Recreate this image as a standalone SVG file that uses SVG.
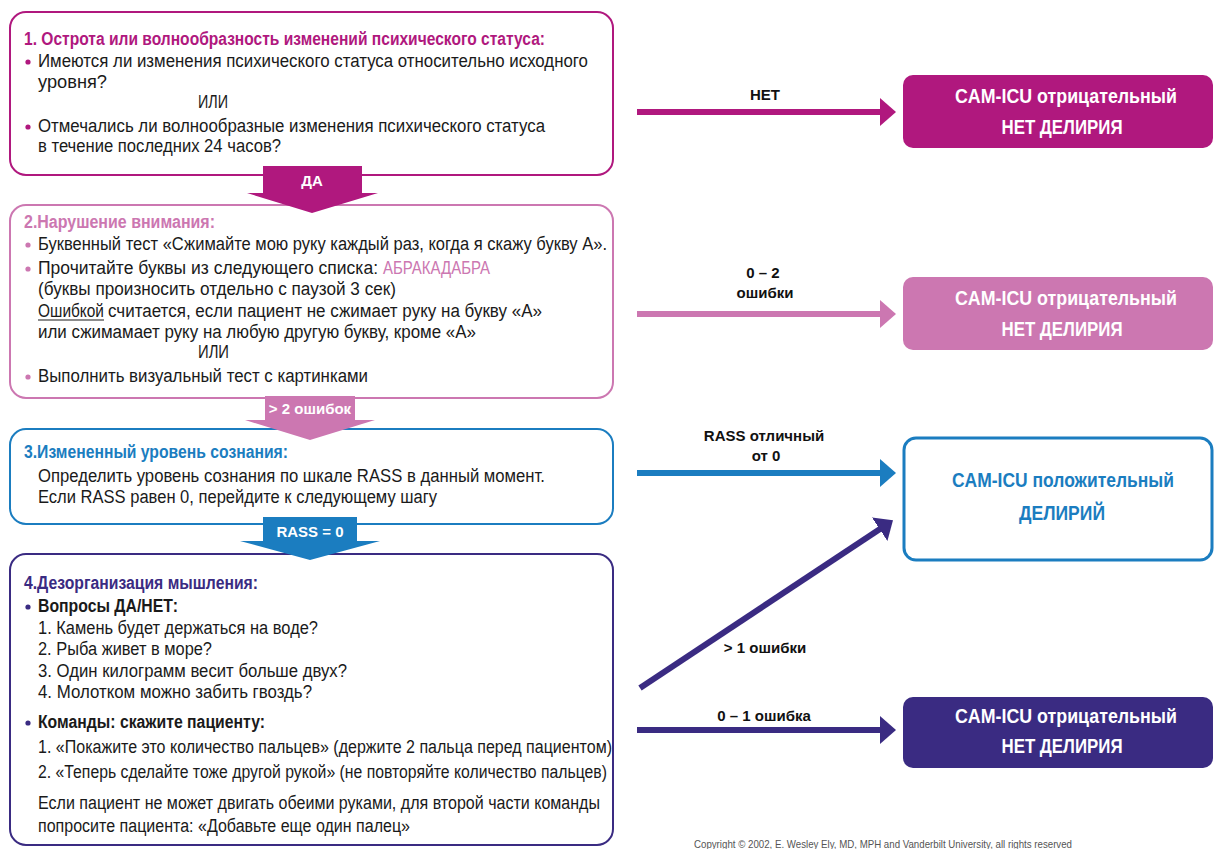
<svg xmlns="http://www.w3.org/2000/svg" width="1216" height="849" viewBox="0 0 1216 849">
<style>
text{font-family:"Liberation Sans Narrow","Liberation Sans",Arial,sans-serif;}
.t{font-size:18px;fill:#1a1a1a;}
.b{font-weight:bold;}
.h1{font-size:18px;font-weight:bold;fill:#b0187e;}
.h2{font-size:18px;font-weight:bold;fill:#cc77b1;}
.h3{font-size:18px;font-weight:bold;fill:#1b7dc0;}
.h4{font-size:18px;font-weight:bold;fill:#3a2b82;}
.lab{font-size:15px;font-weight:bold;fill:#111;text-anchor:middle;}
.wl{font-size:15px;font-weight:bold;fill:#fff;text-anchor:middle;}
.rt{font-size:20px;font-weight:bold;text-anchor:middle;}
.box{fill:#fff;stroke-width:2;}
</style>
<defs>
<marker id="mM" markerUnits="userSpaceOnUse" markerWidth="16" markerHeight="28" refX="4" refY="14" orient="auto"><path d="M0,0 L16,14 L0,28 z" fill="#b0187e"/></marker>
<marker id="mP" markerUnits="userSpaceOnUse" markerWidth="16" markerHeight="28" refX="4" refY="14" orient="auto"><path d="M0,0 L16,14 L0,28 z" fill="#cc77b1"/></marker>
<marker id="mB" markerUnits="userSpaceOnUse" markerWidth="16" markerHeight="28" refX="4" refY="14" orient="auto"><path d="M0,0 L16,14 L0,28 z" fill="#1b7dc0"/></marker>
<marker id="mD" markerUnits="userSpaceOnUse" markerWidth="16" markerHeight="28" refX="4" refY="14" orient="auto"><path d="M0,0 L16,14 L0,28 z" fill="#3a2b82"/></marker>
</defs>
<rect width="1216" height="849" fill="#fff"/>

<g id="step1">
<rect class="box" x="10" y="12" width="603" height="163" rx="16" stroke="#b0187e"/>
<text class="h1" x="24" y="45" textLength="521" lengthAdjust="spacingAndGlyphs">1. Острота или волнообразность изменений психического статуса:</text>
<circle cx="28" cy="62" r="2.6" fill="#b0187e"/>
<text class="t" x="38" y="67" textLength="550" lengthAdjust="spacingAndGlyphs">Имеются ли изменения психического статуса относительно исходного</text>
<text class="t" x="38" y="88" textLength="69" lengthAdjust="spacingAndGlyphs">уровня?</text>
<text class="t" x="198" y="108" textLength="30" lengthAdjust="spacingAndGlyphs">ИЛИ</text>
<circle cx="28" cy="127" r="2.6" fill="#b0187e"/>
<text class="t" x="38" y="132" textLength="507" lengthAdjust="spacingAndGlyphs">Отмечались ли волнообразные изменения психического статуса</text>
<text class="t" x="38" y="152" textLength="243" lengthAdjust="spacingAndGlyphs">в течение последних 24 часов?</text>
</g>

<g id="step2">
<rect class="box" x="10" y="205" width="603" height="193" rx="16" stroke="#cc77b1"/>
<text class="h2" x="24" y="228" textLength="191" lengthAdjust="spacingAndGlyphs">2.Нарушение внимания:</text>
<circle cx="28" cy="245" r="2.6" fill="#cc77b1"/>
<text class="t" x="38" y="250" textLength="569" lengthAdjust="spacingAndGlyphs">Буквенный тест «Сжимайте мою руку каждый раз, когда я скажу букву А».</text>
<circle cx="28" cy="269" r="2.6" fill="#cc77b1"/>
<text class="t" x="38" y="274" textLength="340" lengthAdjust="spacingAndGlyphs">Прочитайте буквы из следующего списка:</text>
<text class="t" x="383" y="274" textLength="107" lengthAdjust="spacingAndGlyphs" style="fill:#cc77b1">АБРАКАДАБРА</text>
<text class="t" x="38" y="295" textLength="358" lengthAdjust="spacingAndGlyphs">(буквы произносить отдельно с паузой 3 сек)</text>
<text class="t" x="38" y="317" textLength="66" lengthAdjust="spacingAndGlyphs">Ошибкой</text>
<line x1="38" y1="320" x2="104" y2="320" stroke="#1a1a1a" stroke-width="1.2"/>
<text class="t" x="108" y="317" textLength="434" lengthAdjust="spacingAndGlyphs">считается, если пациент не сжимает руку на букву «А»</text>
<text class="t" x="38" y="338" textLength="438" lengthAdjust="spacingAndGlyphs">или сжимамает руку на любую другую букву, кроме «А»</text>
<text class="t" x="198" y="358" textLength="31" lengthAdjust="spacingAndGlyphs">ИЛИ</text>
<circle cx="28" cy="377" r="2.6" fill="#cc77b1"/>
<text class="t" x="38" y="382" textLength="330" lengthAdjust="spacingAndGlyphs">Выполнить визуальный тест с картинками</text>
</g>

<g id="step3">
<rect class="box" x="10" y="429" width="603" height="95" rx="16" stroke="#1b7dc0"/>
<text class="h3" x="24" y="458" textLength="264" lengthAdjust="spacingAndGlyphs">3.Измененный уровень сознания:</text>
<text class="t" x="38" y="482" textLength="507" lengthAdjust="spacingAndGlyphs">Определить уровень сознания по шкале RASS в данный момент.</text>
<text class="t" x="38" y="503" textLength="399" lengthAdjust="spacingAndGlyphs">Если RASS равен 0, перейдите к следующему шагу</text>
</g>

<g id="step4">
<rect class="box" x="10" y="554" width="603" height="291" rx="16" stroke="#3a2b82"/>
<text class="h4" x="24" y="589" textLength="234" lengthAdjust="spacingAndGlyphs">4.Дезорганизация мышления:</text>
<circle cx="28" cy="607" r="2.6" fill="#3a2b82"/>
<text class="t b" x="38" y="612" textLength="140" lengthAdjust="spacingAndGlyphs">Вопросы  ДА/НЕТ:</text>
<text class="t" x="38" y="634" textLength="280" lengthAdjust="spacingAndGlyphs">1. Камень будет держаться на воде?</text>
<text class="t" x="38" y="655" textLength="174" lengthAdjust="spacingAndGlyphs">2. Рыба живет в море?</text>
<text class="t" x="38" y="677" textLength="309" lengthAdjust="spacingAndGlyphs">3. Один килограмм весит больше двух?</text>
<text class="t" x="38" y="698" textLength="274" lengthAdjust="spacingAndGlyphs">4. Молотком можно забить гвоздь?</text>
<circle cx="28" cy="723" r="2.6" fill="#3a2b82"/>
<text class="t b" x="38" y="728" textLength="227" lengthAdjust="spacingAndGlyphs">Команды: скажите пациенту:</text>
<text class="t" x="38" y="753" textLength="574" lengthAdjust="spacingAndGlyphs">1. «Покажите это количество пальцев» (держите 2 пальца перед пациентом)</text>
<text class="t" x="38" y="778" textLength="569" lengthAdjust="spacingAndGlyphs">2. «Теперь сделайте тоже другой рукой» (не повторяйте количество пальцев)</text>
<text class="t" x="38" y="809" textLength="562" lengthAdjust="spacingAndGlyphs">Если пациент не может двигать обеими руками, для второй части команды</text>
<text class="t" x="38" y="832" textLength="372" lengthAdjust="spacingAndGlyphs">попросите пациента: «Добавьте еще один палец»</text>
</g>

<g id="arrowDA">
<polygon points="263,166 362,166 362,193 378,193 312,213 247,193 263,193" fill="#b0187e"/>
<text class="wl" x="312" y="186">ДА</text>
</g>
<g id="arrowErr2">
<polygon points="265,396 355,396 355,420 375,420 310,440 245,420 265,420" fill="#cc77b1"/>
<text class="wl" x="310" y="414">&gt; 2 ошибок</text>
</g>
<g id="arrowRASS0">
<polygon points="263,517 357,517 357,541 380,541 310,560 240,541 263,541" fill="#1b7dc0"/>
<text class="wl" x="310" y="537">RASS = 0</text>
</g>

<g id="resultNeg1">
<rect x="903" y="75" width="310" height="73" rx="10" fill="#b0187e"/>
<text class="rt" x="1066" y="103" fill="#fff" textLength="222" lengthAdjust="spacingAndGlyphs">CAM-ICU отрицательный</text>
<text class="rt" x="1062" y="134" fill="#fff" textLength="121" lengthAdjust="spacingAndGlyphs">НЕТ ДЕЛИРИЯ</text>
</g>
<g id="resultNeg2">
<rect x="903" y="277" width="310" height="73" rx="10" fill="#cc77b1"/>
<text class="rt" x="1066" y="305" fill="#fff" textLength="222" lengthAdjust="spacingAndGlyphs">CAM-ICU отрицательный</text>
<text class="rt" x="1062" y="336" fill="#fff" textLength="121" lengthAdjust="spacingAndGlyphs">НЕТ ДЕЛИРИЯ</text>
</g>
<g id="resultPos">
<rect x="904" y="438" width="308" height="122" rx="12" fill="#fff" stroke="#1b7dc0" stroke-width="3"/>
<text class="rt" x="1063" y="487" fill="#1b7dc0" textLength="222" lengthAdjust="spacingAndGlyphs">CAM-ICU положительный</text>
<text class="rt" x="1062" y="520" fill="#1b7dc0" textLength="86" lengthAdjust="spacingAndGlyphs">ДЕЛИРИЙ</text>
</g>
<g id="resultNeg4">
<rect x="903" y="697" width="310" height="71" rx="10" fill="#3a2b82"/>
<text class="rt" x="1066" y="723" fill="#fff" textLength="222" lengthAdjust="spacingAndGlyphs">CAM-ICU отрицательный</text>
<text class="rt" x="1062" y="753" fill="#fff" textLength="121" lengthAdjust="spacingAndGlyphs">НЕТ ДЕЛИРИЯ</text>
</g>

<g id="connectors" stroke-width="6" fill="none">
<line x1="637" y1="112" x2="884" y2="112" stroke="#b0187e" marker-end="url(#mM)"/>
<line x1="637" y1="314" x2="884" y2="314" stroke="#cc77b1" marker-end="url(#mP)"/>
<line x1="637" y1="473" x2="884" y2="473" stroke="#1b7dc0" marker-end="url(#mB)"/>
<line x1="640" y1="688" x2="883" y2="527" stroke="#3a2b82" marker-end="url(#mD)"/>
<line x1="637" y1="730" x2="884" y2="730" stroke="#3a2b82" marker-end="url(#mD)"/>
</g>
<g id="connector-labels">
<text class="lab" x="765" y="100">НЕТ</text>
<text class="lab" x="763" y="278">0 – 2</text>
<text class="lab" x="765" y="298">ошибки</text>
<text class="lab" x="764" y="441">RASS отличный</text>
<text class="lab" x="766" y="461">от 0</text>
<text class="lab" x="765" y="653">&gt; 1 ошибки</text>
<text class="lab" x="764" y="721">0 – 1 ошибка</text>
</g>
<text x="883" y="848" font-size="11" fill="#555" text-anchor="middle" textLength="378" lengthAdjust="spacingAndGlyphs">Copyright © 2002, E. Wesley Ely, MD, MPH and Vanderbilt University, all rights reserved</text>
</svg>
